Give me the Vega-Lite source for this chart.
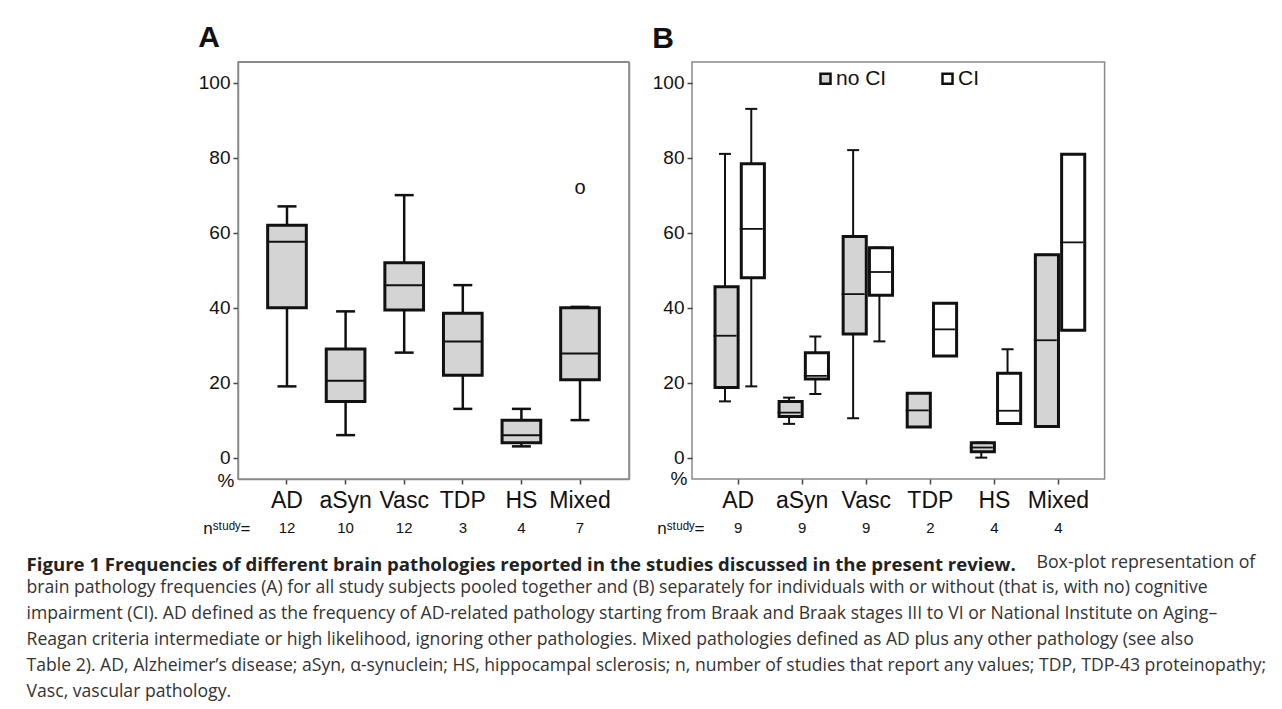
{
  "$schema": "https://vega.github.io/schema/vega-lite/v6.json",
  "background": "white",
  "padding": {"left": 26, "top": 22, "right": 10, "bottom": 6},
  "config": {
    "font": "Liberation Sans",
    "view": {"stroke": "#8a8a8a", "strokeWidth": 1.5},
    "axis": {"grid": false, "labelColor": "#111", "tickColor": "#444", "tickWidth": 1.5, "tickSize": 5, "domain": false, "titleColor": "#111"}
  },
  "datasets": {
    "a": [
      {"cat": "AD", "min": 19, "q1": 40, "median": 57.6, "q3": 62, "max": 67, "outlier": null},
      {"cat": "aSyn", "min": 6, "q1": 15, "median": 20.5, "q3": 29, "max": 39, "outlier": null},
      {"cat": "Vasc", "min": 28, "q1": 39.4, "median": 46, "q3": 52, "max": 70, "outlier": null},
      {"cat": "TDP", "min": 13, "q1": 22, "median": 31, "q3": 38.5, "max": 46, "outlier": null},
      {"cat": "HS", "min": 3, "q1": 4, "median": 6, "q3": 10, "max": 13, "outlier": null},
      {"cat": "Mixed", "min": 10, "q1": 20.8, "median": 27.8, "q3": 40, "max": 40.2, "outlier": 72}
    ],
    "b": [
      {"cat": "AD", "group": "no CI", "min": 15, "q1": 18.7, "median": 32.5, "q3": 45.6, "max": 81},
      {"cat": "AD", "group": "CI", "min": 19, "q1": 48, "median": 61, "q3": 78.4, "max": 93},
      {"cat": "aSyn", "group": "no CI", "min": 9, "q1": 11, "median": 12, "q3": 15, "max": 16},
      {"cat": "aSyn", "group": "CI", "min": 17, "q1": 21, "median": 21.8, "q3": 28, "max": 32.3},
      {"cat": "Vasc", "group": "no CI", "min": 10.5, "q1": 33, "median": 43.6, "q3": 59, "max": 82},
      {"cat": "Vasc", "group": "CI", "min": 31, "q1": 43.3, "median": 49.5, "q3": 56, "max": 56},
      {"cat": "TDP", "group": "no CI", "min": 8.2, "q1": 8.2, "median": 12.6, "q3": 17.2, "max": 17.2},
      {"cat": "TDP", "group": "CI", "min": 27.1, "q1": 27.1, "median": 34.2, "q3": 41.2, "max": 41.2},
      {"cat": "HS", "group": "no CI", "min": 0, "q1": 1.6, "median": 2.7, "q3": 4, "max": 4},
      {"cat": "HS", "group": "CI", "min": 9.1, "q1": 9.1, "median": 12.5, "q3": 22.5, "max": 28.9},
      {"cat": "Mixed", "group": "no CI", "min": 8.3, "q1": 8.3, "median": 31.3, "q3": 54.1, "max": 54.1},
      {"cat": "Mixed", "group": "CI", "min": 34, "q1": 34, "median": 57.4, "q3": 80.9, "max": 80.9}
    ],
    "na": [
      {"cat": "AD", "n": 12, "lab": "nˢᵗᵘᵈʸ="},
      {"cat": "aSyn", "n": 10, "lab": "nˢᵗᵘᵈʸ="},
      {"cat": "Vasc", "n": 12, "lab": "nˢᵗᵘᵈʸ="},
      {"cat": "TDP", "n": 3, "lab": "nˢᵗᵘᵈʸ="},
      {"cat": "HS", "n": 4, "lab": "nˢᵗᵘᵈʸ="},
      {"cat": "Mixed", "n": 7, "lab": "nˢᵗᵘᵈʸ="}
    ],
    "nb": [
      {"cat": "AD", "n": 9, "lab": "nˢᵗᵘᵈʸ="},
      {"cat": "aSyn", "n": 9, "lab": "nˢᵗᵘᵈʸ="},
      {"cat": "Vasc", "n": 9, "lab": "nˢᵗᵘᵈʸ="},
      {"cat": "TDP", "n": 2, "lab": "nˢᵗᵘᵈʸ="},
      {"cat": "HS", "n": 4, "lab": "nˢᵗᵘᵈʸ="},
      {"cat": "Mixed", "n": 4, "lab": "nˢᵗᵘᵈʸ="}
    ]
  },
  "title": {
    "text": "Figure 1 Frequencies of different brain pathologies reported in the studies discussed in the present review.",
    "subtitle": [
      "brain pathology frequencies (A) for all study subjects pooled together and (B) separately for individuals with or without (that is, with no) cognitive",
      "impairment (CI). AD defined as the frequency of AD-related pathology starting from Braak and Braak stages III to VI or National Institute on Aging–",
      "Reagan criteria intermediate or high likelihood, ignoring other pathologies. Mixed pathologies defined as AD plus any other pathology (see also",
      "Table 2). AD, Alzheimer’s disease; aSyn, α-synuclein; HS, hippocampal sclerosis; n, number of studies that report any values; TDP, TDP-43 proteinopathy;",
      "Vasc, vascular pathology."
    ],
    "orient": "bottom",
    "anchor": "start",
    "frame": "bounds",
    "dx": -171,
    "offset": -16,
    "font": "Open Sans",
    "fontSize": 18.6,
    "fontWeight": "bold",
    "color": "#222",
    "subtitleFont": "Open Sans",
    "subtitleFontSize": 17.6,
    "subtitleColor": "#333",
    "subtitleLineHeight": 26,
    "subtitlePadding": 5
  },
  "vconcat": [
    {
      "title": {
        "text": "Box-plot representation of",
        "orient": "bottom",
        "anchor": "end",
        "frame": "bounds",
        "dx": 150,
        "offset": 16,
        "font": "Open Sans",
        "fontSize": 17.8,
        "fontWeight": "normal",
        "color": "#333"
      },
      "hconcat": [
        {
          "spacing": 5,
          "vconcat": [
            {
              "width": 391,
              "height": 417,
              "view": {"stroke": "#8a8a8a", "strokeWidth": 1.5},
              "title": {"text": "A", "anchor": "start", "frame": "bounds", "fontSize": 30, "fontWeight": "bold", "offset": 8, "color": "#111"},
              "data": {"name": "a"},
              "resolve": {"axis": {"y": "independent"}},
              "layer": [
                {"mark": {"type": "rule", "strokeWidth": 2.5, "color": "#111"},
                 "encoding": {
                   "x": {"field": "cat", "type": "nominal", "sort": null,
                     "scale": {"type": "band", "paddingInner": 0.2, "paddingOuter": 0.436},
                     "axis": {"title": null, "labelAngle": 0, "labelFontSize": 23, "labelPadding": 5,
                       "domain": true, "domainColor": "#8a8a8a", "domainWidth": 1.5}},
                   "y": {"field": "min", "type": "quantitative",
                     "scale": {"domain": [-5.7, 105.5], "nice": false, "zero": false},
                     "axis": {"values": [0, 20, 40, 60, 80, 100], "labelFontSize": 19, "labelPadding": 3,
                       "domain": true, "domainColor": "#8a8a8a", "domainWidth": 1.5,
                       "title": "%", "titleAngle": 0, "titleFontSize": 19, "titleFontWeight": "normal",
                       "titleAlign": "left", "titleBaseline": "alphabetic", "titleX": -21, "titleY": 424}},
                   "y2": {"field": "q1"}}},
                {"mark": {"type": "rule", "strokeWidth": 2.5, "color": "#111"},
                 "encoding": {
                   "x": {"field": "cat", "type": "nominal", "sort": null},
                   "y": {"field": "q3", "type": "quantitative", "axis": null}, "y2": {"field": "max"}}},
                {"mark": {"type": "tick", "size": 19, "thickness": 2.5, "color": "#111", "opacity": 1},
                 "encoding": {
                   "x": {"field": "cat", "type": "nominal", "sort": null},
                   "y": {"field": "min", "type": "quantitative", "axis": null}}},
                {"mark": {"type": "tick", "size": 19, "thickness": 2.5, "color": "#111", "opacity": 1},
                 "encoding": {
                   "x": {"field": "cat", "type": "nominal", "sort": null},
                   "y": {"field": "max", "type": "quantitative", "axis": null}}},
                {"mark": {"type": "bar", "stroke": "#111", "strokeWidth": 3, "width": {"band": 0.825}},
                 "encoding": {
                   "x": {"field": "cat", "type": "nominal", "sort": null},
                   "y": {"field": "q1", "type": "quantitative", "axis": null}, "y2": {"field": "q3"},
                   "fill": {"value": "#d4d4d4"}}},
                {"mark": {"type": "tick", "size": 38, "thickness": 2, "color": "#111", "opacity": 1},
                 "encoding": {
                   "x": {"field": "cat", "type": "nominal", "sort": null},
                   "y": {"field": "median", "type": "quantitative",
                     "axis": {"orient": "right", "labels": false, "ticks": false, "title": null,
                       "domain": true, "domainColor": "#8a8a8a", "domainWidth": 1.5}}}},
                {"mark": {"type": "rule", "color": "#8a8a8a", "strokeWidth": 1.5},
                 "encoding": {"y": {"datum": 105.5, "type": "quantitative", "axis": null}}},
                {"mark": {"type": "text", "fontSize": 20, "color": "#111", "baseline": "middle"},
                 "encoding": {
                   "x": {"field": "cat", "type": "nominal", "sort": null},
                   "y": {"field": "outlier", "type": "quantitative", "axis": null}, "text": {"value": "o"}}}
              ]
            },
            {
              "width": 391,
              "height": 20,
              "view": {"stroke": null},
              "data": {"name": "na"},
              "mark": {"type": "text", "fontSize": 15, "color": "#111"},
              "encoding": {
                "x": {"field": "cat", "type": "nominal", "sort": null,
                  "scale": {"type": "band", "paddingInner": 0.2, "paddingOuter": 0.436}, "axis": null},
                "y": {"field": "lab", "type": "nominal",
                  "axis": {"title": null, "domain": false, "ticks": false, "tickSize": 0, "labelPadding": -12, "labelFontSize": 17}},
                "text": {"field": "n", "type": "quantitative"}
              }
            }
          ]
        },
        {
          "spacing": 5,
          "vconcat": [
            {
              "width": 412.6,
              "height": 417,
              "view": {"stroke": "#8a8a8a", "strokeWidth": 1.5},
              "title": {"text": "B", "anchor": "start", "frame": "bounds", "fontSize": 30, "fontWeight": "bold", "offset": 8, "color": "#111"},
              "data": {"name": "b"},
              "encoding": {
                "x": {"field": "cat", "type": "nominal", "sort": null,
                  "scale": {"type": "band", "paddingInner": 0.18, "paddingOuter": 0.31},
                  "axis": {"title": null, "labelAngle": 0, "labelFontSize": 23, "labelPadding": 5}},
                "xOffset": {"field": "group", "type": "nominal", "sort": null,
                  "scale": {"paddingInner": 0, "paddingOuter": 0}}
              },
              "layer": [
                {"mark": {"type": "rule", "strokeWidth": 2, "color": "#111"},
                 "encoding": {
                   "y": {"field": "min", "type": "quantitative",
                     "scale": {"domain": [-5.7, 105.5], "nice": false, "zero": false},
                     "axis": {"values": [0, 20, 40, 60, 80, 100], "labelFontSize": 19, "labelPadding": 3,
                       "title": "%", "titleAngle": 0, "titleFontSize": 19, "titleFontWeight": "normal",
                       "titleAlign": "left", "titleBaseline": "alphabetic", "titleX": -22, "titleY": 422}},
                   "y2": {"field": "q1"}}},
                {"mark": {"type": "rule", "strokeWidth": 2, "color": "#111"},
                 "encoding": {"y": {"field": "q3", "type": "quantitative"}, "y2": {"field": "max"}}},
                {"mark": {"type": "tick", "size": 12, "thickness": 2, "color": "#111", "opacity": 1},
                 "encoding": {"y": {"field": "min", "type": "quantitative"}}},
                {"mark": {"type": "tick", "size": 12, "thickness": 2, "color": "#111", "opacity": 1},
                 "encoding": {"y": {"field": "max", "type": "quantitative"}}},
                {"mark": {"type": "bar", "stroke": "#111", "strokeWidth": 3, "width": {"band": 0.88}},
                 "encoding": {
                   "y": {"field": "q1", "type": "quantitative"}, "y2": {"field": "q3"},
                   "fill": {"field": "group", "type": "nominal", "sort": null,
                     "scale": {"range": ["#d4d4d4", "#ffffff"]},
                     "legend": {"orient": "none", "legendX": 577, "legendY": 6, "direction": "horizontal", "title": null,
                       "symbolType": "square", "symbolSize": 100, "symbolStrokeColor": "#111", "symbolStrokeWidth": 2.5,
                       "labelFontSize": 21, "labelColor": "#111", "columnPadding": 50, "labelOffset": 0}}}},
                {"mark": {"type": "tick", "size": 23, "thickness": 1.8, "color": "#111", "opacity": 1},
                 "encoding": {"y": {"field": "median", "type": "quantitative"}}}
              ]
            },
            {
              "width": 412.6,
              "height": 20,
              "view": {"stroke": null},
              "data": {"name": "nb"},
              "mark": {"type": "text", "fontSize": 15, "color": "#111"},
              "encoding": {
                "x": {"field": "cat", "type": "nominal", "sort": null,
                  "scale": {"type": "band", "paddingInner": 0.18, "paddingOuter": 0.31}, "axis": null},
                "y": {"field": "lab", "type": "nominal",
                  "axis": {"title": null, "domain": false, "ticks": false, "tickSize": 0, "labelPadding": -12, "labelFontSize": 17}},
                "text": {"field": "n", "type": "quantitative"}
              }
            }
          ]
        }
      ],
      "spacing": 20
    }
  ]
}
